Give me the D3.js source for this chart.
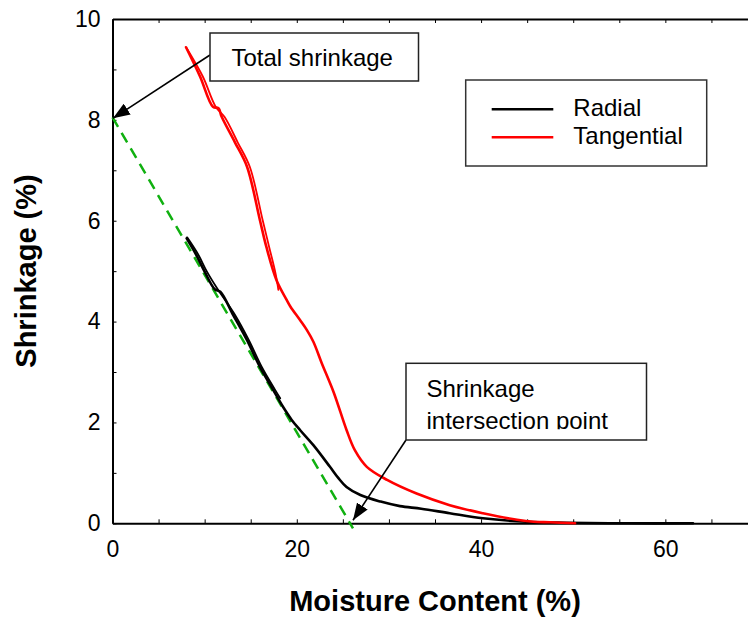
<!DOCTYPE html>
<html>
<head>
<meta charset="utf-8">
<script src="https://cdn.jsdelivr.net/npm/d3@7"></script>
<style>
  html, body { margin: 0; padding: 0; background: #fff; }
  svg { display: block; }
  text { font-family: "Liberation Sans", Arial, Helvetica, sans-serif; }
</style>
</head>
<body>
<svg id="chart" width="748" height="620"></svg>
<script>
// ---------------- data ----------------
const xTicks = [0, 5, 10, 15, 20, 25, 30, 35, 40, 45, 50, 55, 60, 65, 70];
const xTickLabels = [0, 20, 40, 60];
const yTicks = [0, 1, 2, 3, 4, 5, 6, 7, 8, 9, 10];
const yTickLabels = [0, 2, 4, 6, 8, 10];

// [moisture content %, shrinkage %]
const radialDrying = [
  [63.0, 0.0], [56.0, 0.0], [49.3, 0.01], [44.9, 0.03], [40.2, 0.1], [36.6, 0.2],
  [33.5, 0.29], [31.2, 0.34], [29.1, 0.43], [26.9, 0.56], [25.4, 0.72],
  [24.5, 0.9], [23.6, 1.12], [21.8, 1.55], [20.35, 1.85], [19.45, 2.05],
  [18.5, 2.31], [17.45, 2.64], [16.0, 3.1], [14.6, 3.63], [13.1, 4.13],
  [11.7, 4.59], [11.1, 4.64], [10.0, 4.99], [9.1, 5.32], [8.05, 5.65]
];
const radialReturn = [
  [8.1, 5.67], [9.3, 5.33], [10.25, 4.99], [11.35, 4.66], [13.3, 4.13],
  [14.8, 3.63], [16.2, 3.1], [17.6, 2.66], [18.2, 2.48]
];
const tangentialDrying = [
  [50.2, 0.0], [47.5, 0.02], [45.7, 0.03], [43.9, 0.07], [40.2, 0.2],
  [36.6, 0.36], [33.0, 0.59], [29.8, 0.86], [27.6, 1.12], [26.3, 1.45],
  [25.4, 1.85], [24.0, 2.6], [22.7, 3.18], [21.8, 3.6],
  [21.1, 3.83], [20.35, 4.03], [19.3, 4.3], [18.9, 4.43], [17.8, 4.82],
  [16.7, 5.48], [16.0, 6.01], [14.6, 7.07], [13.3, 7.55], [11.85, 8.06],
  [11.5, 8.23], [10.9, 8.26], [9.5, 8.86], [7.98, 9.44]
];
const tangentialReturn = [
  [8.05, 9.42], [9.8, 8.86], [11.2, 8.26], [12.15, 8.06], [13.6, 7.55],
  [14.9, 7.07], [16.3, 6.01], [17.0, 5.48], [17.7, 4.95], [18.0, 4.63]
];
// extrapolated straight line (fibre saturation construction)
const fspLine = [[0, 8.05], [26.1, -0.1]];

const seriesNames = ["Radial", "Tangential"];
const seriesColors = ["#000000", "#ff0000"];

// ---------------- layout ----------------
const svg = d3.select("#chart");
const x = d3.scaleLinear().domain([0, 70]).range([112.5, 757.5]);
const y = d3.scaleLinear().domain([0, 10]).range([523.3, 19]);

const line = d3.line()
  .x(d => x(d[0])).y(d => y(d[1]))
  .curve(d3.curveCatmullRom.alpha(0.5));

// axes
const axisFont = 23;
const gBottom = svg.append("g").attr("transform", `translate(0,${y(0)})`)
  .call(d3.axisBottom(x).tickValues(xTicks).tickSizeInner(-4).tickSizeOuter(0).tickPadding(17)
    .tickFormat(d => xTickLabels.includes(d) ? d : ""));
const gTop = svg.append("g").attr("transform", `translate(0,${y(10)})`)
  .call(d3.axisTop(x).tickValues(xTicks).tickSizeInner(-4).tickSizeOuter(0).tickFormat(""));
const gLeft = svg.append("g").attr("transform", `translate(${x(0)},0)`)
  .call(d3.axisLeft(y).tickValues(yTicks).tickSizeInner(-4).tickSizeOuter(0).tickPadding(12)
    .tickFormat(d => yTickLabels.includes(d) ? d : ""));
const gRight = svg.append("g").attr("transform", `translate(${x(70)},0)`)
  .call(d3.axisRight(y).tickValues(yTicks).tickSizeInner(-4).tickSizeOuter(0).tickFormat(""));

[gBottom, gTop, gLeft, gRight].forEach(g => {
  g.select(".domain").attr("stroke", "#000").attr("stroke-width", 2);
  g.selectAll(".tick line").attr("stroke", "#000").attr("stroke-width", 1);
  g.selectAll(".tick text").attr("fill", "#000")
    .style("font-size", axisFont + "px")
    .style("font-family", "'Liberation Sans', Arial, sans-serif");
});

// axis titles
svg.append("text")
  .attr("x", 435).attr("y", 611)
  .attr("text-anchor", "middle")
  .style("font-size", "29px").style("font-weight", "bold")
  .text("Moisture Content (%)");
svg.append("text")
  .attr("transform", "translate(36,271) rotate(-90)")
  .attr("text-anchor", "middle")
  .style("font-size", "29px").style("font-weight", "bold")
  .text("Shrinkage (%)");

// green dashed construction line
svg.append("path")
  .datum(fspLine)
  .attr("d", d3.line().x(d => x(d[0])).y(d => y(d[1])))
  .attr("fill", "none").attr("stroke", "#10b010")
  .attr("stroke-width", 2.5).attr("stroke-dasharray", "11,7");

// data curves
const curves = [
  { data: radialDrying, color: seriesColors[0], w: 2.6 },
  { data: radialReturn, color: seriesColors[0], w: 1.8 },
  { data: tangentialDrying, color: seriesColors[1], w: 2.6 },
  { data: tangentialReturn, color: seriesColors[1], w: 1.8 }
];
svg.append("g").selectAll("path").data(curves).join("path")
  .attr("d", d => line(d.data))
  .attr("fill", "none")
  .attr("stroke", d => d.color)
  .attr("stroke-width", d => d.w)
  .attr("stroke-linejoin", "round").attr("stroke-linecap", "round");

// arrow marker
const defs = svg.append("defs");
defs.append("marker")
  .attr("id", "arrow").attr("markerUnits", "userSpaceOnUse")
  .attr("viewBox", "0 0 16 12").attr("refX", 16).attr("refY", 6)
  .attr("markerWidth", 17).attr("markerHeight", 13).attr("orient", "auto")
  .append("path").attr("d", "M0,0 L16,6 L0,12 Z").attr("fill", "#000");

// annotation 1: Total shrinkage
svg.append("line")
  .attr("x1", 210).attr("y1", 55).attr("x2", x(0.05)).attr("y2", y(8.03))
  .attr("stroke", "#000").attr("stroke-width", 1.6).attr("marker-end", "url(#arrow)");
svg.append("rect")
  .attr("x", 210).attr("y", 33).attr("width", 208.5).attr("height", 48)
  .attr("fill", "#fff").attr("stroke", "#222").attr("stroke-width", 1.5);
svg.append("text").attr("x", 231.5).attr("y", 66)
  .style("font-size", "24px").text("Total shrinkage");

// annotation 2: Shrinkage intersection point
svg.append("line")
  .attr("x1", 406).attr("y1", 440).attr("x2", x(26.1)).attr("y2", y(0.06))
  .attr("stroke", "#000").attr("stroke-width", 1.6).attr("marker-end", "url(#arrow)");
svg.append("rect")
  .attr("x", 406).attr("y", 363.3).attr("width", 240.5).attr("height", 76.7)
  .attr("fill", "#fff").attr("stroke", "#222").attr("stroke-width", 1.5);
defs.append("clipPath").attr("id", "boxclip")
  .append("rect").attr("x", 406).attr("y", 363.3).attr("width", 240).attr("height", 66);
const t2 = svg.append("g").attr("clip-path", "url(#boxclip)");
t2.append("text").attr("x", 426.5).attr("y", 397.3).style("font-size", "24px").text("Shrinkage");
t2.append("text").attr("x", 426.5).attr("y", 428.5).style("font-size", "24px").text("intersection point");

// legend
const legend = svg.append("g");
legend.append("rect")
  .attr("x", 465.7).attr("y", 80).attr("width", 241).attr("height", 86)
  .attr("fill", "#fff").attr("stroke", "#333").attr("stroke-width", 1.5);
const items = legend.selectAll("g.item").data(seriesNames).join("g")
  .attr("class", "item")
  .attr("transform", (d, i) => `translate(0,${109.3 + i * 28})`);
items.append("line")
  .attr("x1", 491.7).attr("x2", 553.3).attr("y1", 0).attr("y2", 0)
  .attr("stroke", (d, i) => seriesColors[i]).attr("stroke-width", 2.5);
items.append("text")
  .attr("x", 573.3).attr("y", 7)
  .style("font-size", "24px").text(d => d);
</script>
</body>
</html>
